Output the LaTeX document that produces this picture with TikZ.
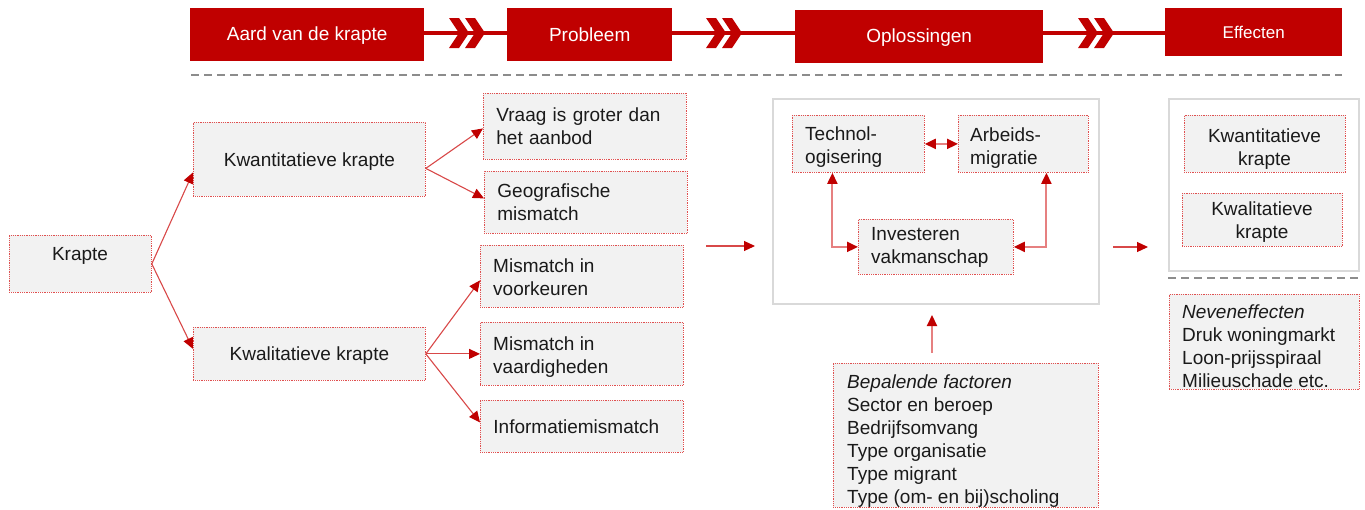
\documentclass[tikz,border=0pt]{standalone}
\usepackage{fontspec}
\setmainfont{Liberation Sans}
\usetikzlibrary{arrows.meta}
\definecolor{hred}{HTML}{C00000}
\definecolor{boxgray}{HTML}{F2F2F2}
\definecolor{dotred}{HTML}{E05050}
\definecolor{connred}{HTML}{D84848}
\definecolor{connpink}{HTML}{E68080}
\definecolor{framegray}{HTML}{D9D9D9}
\definecolor{dashgray}{HTML}{8C8C8C}
\definecolor{txtc}{HTML}{1A1A1A}
\tikzset{
  hbox/.style={fill=hred, draw=none, anchor=north west, inner sep=0pt, text=white, align=center, font=\fontsize{19}{23}\selectfont},
  cbox/.style={fill=boxgray, draw=dotred, line width=0.8pt, dash pattern=on 0.9pt off 0.9pt, anchor=north west, inner sep=0pt, text=txtc, font=\fontsize{19}{23}\selectfont},
  lbox/.style={cbox, align=left},
  mbox/.style={cbox, align=center},
  txt/.style={inner sep=0pt, text=txtc, font=\fontsize{19}{23}\selectfont},
  ltxt/.style={txt, align=left, anchor=base west},
  ctxt/.style={txt, align=center, anchor=base},
  frame/.style={draw=framegray, line width=1.6pt, fill=white, anchor=north west, inner sep=0pt},
  hline/.style={draw=hred, line width=3.5pt},
  conn/.style={draw=connred, line width=1.1pt, -{Triangle[length=11pt,width=10pt,color=hred]}},
  conn2/.style={draw=connpink, line width=2pt, {Triangle[length=11pt,width=10pt,color=hred]}-{Triangle[length=11pt,width=10pt,color=hred]}},
  dashln/.style={draw=dashgray, line width=2pt, dash pattern=on 8pt off 5pt},
  dblchev/.pic={
    \fill[hred] (0,-15) -- (10,-15) -- (20,0) -- (10,15) -- (0,15) -- (10,0) -- cycle;
    \fill[hred] (16,-15) -- (26,-15) -- (36,0) -- (26,15) -- (16,15) -- (26,0) -- cycle;
  }
}
\begin{document}
\begin{tikzpicture}[x=1pt,y=-1pt]
\useasboundingbox (0,0) rectangle (1365,509);
% header
\coordinate (hy) at (0,33);
\node[hbox, minimum width=234pt, minimum height=53pt, text depth=2pt] (aard) at (190,8) {Aard van de krapte};
\node[hbox, minimum width=165pt, minimum height=53pt] (prob) at (507,8) {Probleem};
\node[hbox, minimum width=248pt, minimum height=53pt, text depth=2pt] (opl) at (795,10) {Oplossingen};
\node[hbox, minimum width=177pt, minimum height=48pt, font=\fontsize{17}{20}\selectfont] (eff) at (1165,8) {Effecten};
\draw[hline] (aard.east |- hy) -- (prob.west |- hy);
\draw[hline] (prob.east |- hy) -- (opl.west |- hy);
\draw[hline] (opl.east |- hy) -- (eff.west |- hy);
\pic at (449,33) {dblchev};
\pic at (706,33) {dblchev};
\pic at (1078,33) {dblchev};
\coordinate (d1) at (191,75);
\coordinate (d2) at (1342,75);
\draw[dashln] (d1) -- (d2);
% left tree
\node[cbox, minimum width=142pt, minimum height=57pt] (krapte) at (9,235) {};
\node[txt] (kraptet) at (80,256) {Krapte};
\node[mbox, minimum width=232pt, minimum height=74pt, text depth=0pt] (kwant) at (193,122) {Kwantitatieve krapte};
\node[mbox, minimum width=232pt, minimum height=53pt, text depth=0pt] (kwal) at (193,327) {Kwalitatieve krapte};
\node[lbox, minimum width=203pt, minimum height=66pt, text width=177pt] (vraag) at (483,93) {Vraag is groter dan\\het aanbod};
\node[lbox, minimum width=203pt, minimum height=62pt, text width=177pt] (geo) at (484,171) {Geografische\\mismatch};
\node[cbox, minimum width=203pt, minimum height=62pt] (voork) at (480,245) {};
\node[ltxt] (voorkt) at (493,295) {Mismatch in\\voorkeuren};
\node[cbox, minimum width=203pt, minimum height=63pt] (vaard) at (480,322) {};
\node[ltxt] (vaardt) at (493,373) {Mismatch in\\vaardigheden};
\node[lbox, minimum width=203pt, minimum height=52pt, text width=177pt, text depth=-1pt] (info) at (480,400) {Informatiemismatch};
\draw[conn] (krapte.east) -- ([yshift=-13pt]kwant.west);
\draw[conn] (krapte.east) -- ([yshift=5pt]kwal.west);
\draw[conn] ([yshift=-9pt]kwant.east) -- ([yshift=-2pt]vraag.west);
\draw[conn] ([yshift=-9pt]kwant.east) -- ([yshift=4pt]geo.west);
\draw[conn] (kwal.east) -- ([yshift=-4pt]voork.west);
\draw[conn] (kwal.east) -- (vaard.west);
\draw[conn] (kwal.east) -- ([yshift=4pt]info.west);
% middle
\coordinate (a1s) at (706,246);
\coordinate (a1e) at (755,246);
\draw[conn] (a1s) -- (a1e);
\node[frame, minimum width=326pt, minimum height=205pt] (oplframe) at (772,98) {};
\node[cbox, minimum width=132pt, minimum height=57pt] (tech) at (792,115) {};
\node[ltxt] (techt) at (805,163) {Technol-\\ogisering};
\node[cbox, minimum width=130pt, minimum height=57pt] (arb) at (958,115) {};
\node[ltxt] (arbt) at (970,164) {Arbeids-\\migratie};
\node[cbox, minimum width=155pt, minimum height=55pt] (inv) at (858,219) {};
\node[ltxt] (invt) at (871,263) {Investeren\\vakmanschap};
\draw[conn2] (tech.east) -- (arb.west);
\draw[conn2] ([xshift=-26pt]tech.south) |- (inv.west);
\draw[conn2] ([xshift=23pt]arb.south) |- (inv.east);
\node[cbox, minimum width=265pt, minimum height=144pt] (bep) at (833,363) {};
\node[ltxt] (bept) at (847,503) {\textit{Bepalende factoren}\\Sector en beroep\\Bedrijfsomvang\\Type organisatie\\Type migrant\\Type (om- en bij)scholing};
\coordinate (f1) at (932,353);
\coordinate (f2) at (932,315);
\draw[conn, draw=connpink, line width=2pt] (f1) -- (f2);
% right
\coordinate (a2s) at (1113,247);
\coordinate (a2e) at (1148,247);
\draw[conn] (a2s) -- (a2e);
\node[frame, minimum width=190pt, minimum height=172pt] (effframe) at (1168,98) {};
\node[cbox, minimum width=161pt, minimum height=57pt] (kwant2) at (1184,115) {};
\node[ctxt] (kwant2t) at (1264.5,165) {Kwantitatieve\\krapte};
\node[cbox, minimum width=160pt, minimum height=53pt] (kwal2) at (1182,193) {};
\node[ctxt] (kwal2t) at (1262,238) {Kwalitatieve\\krapte};
\coordinate (d3) at (1168,278);
\coordinate (d4) at (1358,278);
\draw[dashln] (d3) -- (d4);
\node[cbox, minimum width=190pt, minimum height=95pt] (neven) at (1169,294) {};
\node[ltxt] (event) at (1182,387) {\textit{Neveneffecten}\\Druk woningmarkt\\Loon-prijsspiraal\\Milieuschade etc.};
\end{tikzpicture}
\end{document}
